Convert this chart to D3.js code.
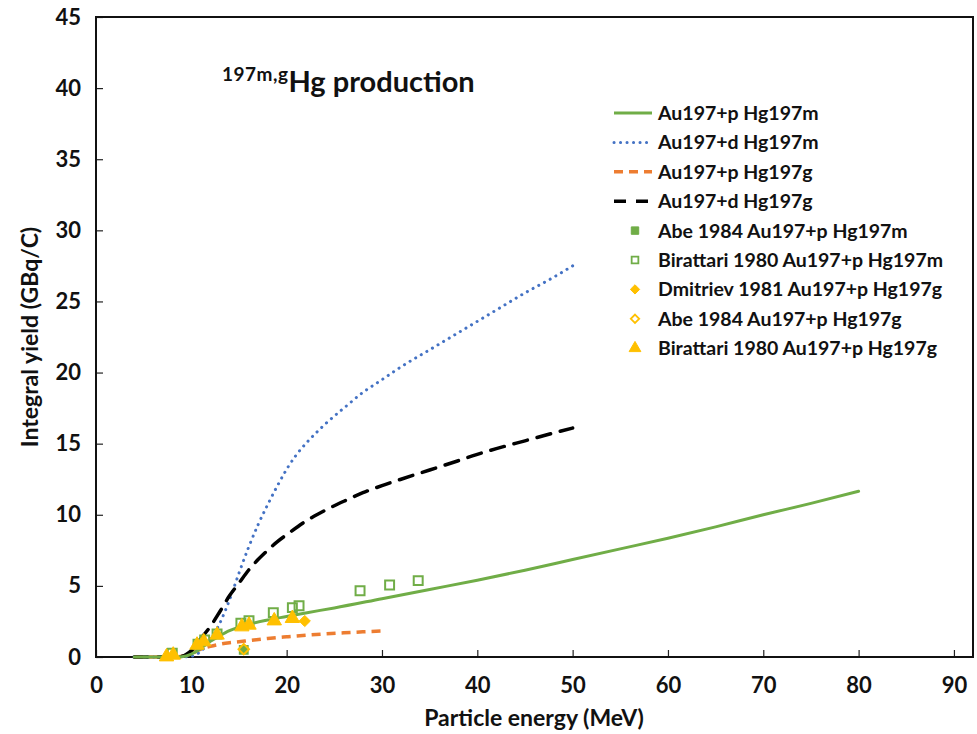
<!DOCTYPE html>
<html>
<head>
<meta charset="utf-8">
<script src="https://cdn.jsdelivr.net/npm/d3@7"></script>
<style>
  html, body { margin: 0; padding: 0; background: #fff; }
  svg text { font-family: Lato, "Open Sans", sans-serif; font-weight: bold; fill: #111; }
</style>
</head>
<body>
<svg id="chart" width="977" height="734"></svg>
<script>
// Integral yield curves (GBq/C) versus particle energy (MeV)
const pHg197mE = [4, 6, 8, 9, 10, 11, 12, 13, 14, 15, 16, 18, 20, 22, 25, 30, 35, 40, 45, 50, 55, 60, 65, 70, 75, 80];
const pHg197mY = [0, 0, 0, 0.02, 0.2, 0.6, 1.1, 1.5, 1.85, 2.1, 2.3, 2.6, 2.85, 3.1, 3.45, 4.1, 4.75, 5.4, 6.1, 6.85, 7.6, 8.35, 9.15, 10.0, 10.8, 11.65];

const dHg197mE = [4, 6, 8, 9, 10, 11, 12, 13, 14, 15, 16, 17, 18, 19, 20, 21, 22, 23, 24, 26, 28, 30, 32, 35, 38, 40, 42, 45, 48, 50];
const dHg197mY = [0, 0, 0, 0, 0.05, 0.4, 1.2, 2.4, 4.0, 5.9, 7.7, 9.3, 10.7, 12.0, 13.2, 14.2, 15.0, 15.7, 16.35, 17.5, 18.6, 19.5, 20.4, 21.6, 22.8, 23.6, 24.4, 25.6, 26.7, 27.5];

const pHg197gE = [4, 6, 8, 9, 10, 11, 12, 13, 14, 15, 16, 18, 20, 22, 24, 26, 28, 30];
const pHg197gY = [0, 0, 0, 0.05, 0.25, 0.55, 0.75, 0.9, 1.0, 1.07, 1.15, 1.3, 1.42, 1.53, 1.62, 1.7, 1.77, 1.83];

const dHg197gE = [4, 6, 8, 9, 10, 11, 12, 13, 14, 15, 16, 17, 18, 19, 20, 22, 24, 26, 28, 30, 32, 35, 38, 40, 42, 45, 48, 50];
const dHg197gY = [0, 0, 0, 0.05, 0.45, 1.3, 2.15, 3.2, 4.3, 5.2, 6.1, 6.85, 7.5, 8.1, 8.6, 9.55, 10.3, 10.95, 11.55, 12.05, 12.5, 13.15, 13.8, 14.25, 14.65, 15.2, 15.75, 16.1];

// Experimental points
const abeMe = [15.5];
const abeMy = [0.5];
const birMe = [8.0, 10.7, 11.4, 12.7, 15.2, 16.05, 18.6, 20.6, 21.3, 27.7, 30.8, 33.8];
const birMy = [0.26, 0.89, 1.2, 1.62, 2.37, 2.55, 3.12, 3.47, 3.61, 4.66, 5.06, 5.37];
const dmiGe = [21.9];
const dmiGy = [2.53];
const abeGe = [15.5];
const abeGy = [0.55];
const birGe = [7.4, 8.1, 10.6, 11.3, 12.7, 15.3, 16.05, 18.7, 20.6];
const birGy = [0.02, 0.14, 0.84, 1.08, 1.55, 2.13, 2.25, 2.55, 2.72];

const xTicks = [0, 10, 20, 30, 40, 50, 60, 70, 80, 90];
const yTicks = [0, 5, 10, 15, 20, 25, 30, 35, 40, 45];

const legendLabels = [
  "Au197+p Hg197m",
  "Au197+d Hg197m",
  "Au197+p Hg197g",
  "Au197+d Hg197g",
  "Abe 1984 Au197+p Hg197m",
  "Birattari 1980 Au197+p Hg197m",
  "Dmitriev 1981 Au197+p Hg197g",
  "Abe 1984 Au197+p Hg197g",
  "Birattari 1980 Au197+p Hg197g"
];

const GREEN = "#70AD47", BLUE = "#4472C4", ORANGE = "#ED7D31", YELLOW = "#FFC000";

const svg = d3.select("#chart");
const plotL = 96, plotR = 973, plotT = 17, plotB = 657;

const x = d3.scaleLinear().domain([0, 92]).range([plotL, plotR]);
const y = d3.scaleLinear().domain([0, 45]).range([plotB, plotT]);

// Axes with inward ticks
const xAxis = d3.axisBottom(x).tickValues(xTicks).tickSize(-7).tickPadding(20).tickFormat(d3.format("d"));
const yAxis = d3.axisLeft(y).tickValues(yTicks).tickSize(-7).tickPadding(15).tickFormat(d3.format("d"));

const gx = svg.append("g").attr("transform", `translate(0,${plotB})`).call(xAxis);
const gy = svg.append("g").attr("transform", `translate(${plotL},0)`).call(yAxis);
[gx, gy].forEach(g => {
  g.select(".domain").remove();
  g.selectAll(".tick line").attr("stroke", "#222").attr("stroke-width", 1.2);
  g.selectAll(".tick text").style("font-size", "22px").attr("fill", "#111");
});

// Plot frame
svg.append("rect")
  .attr("x", plotL).attr("y", plotT)
  .attr("width", plotR - plotL).attr("height", plotB - plotT)
  .attr("fill", "none").attr("stroke", "#111").attr("stroke-width", 2);

// Axis titles
svg.append("text")
  .attr("x", 534).attr("y", 726)
  .attr("text-anchor", "middle")
  .style("font-size", "23px")
  .text("Particle energy (MeV)");

svg.append("text")
  .attr("transform", `translate(38,${(plotT + plotB) / 2}) rotate(-90)`)
  .attr("text-anchor", "middle")
  .style("font-size", "23px")
  .text("Integral yield (GBq/C)");

// Title with superscript
const title = svg.append("text").attr("x", 222).attr("y", 92).style("font-size", "29px");
title.append("tspan").style("font-size", "19px").attr("dy", "-11").attr("letter-spacing", "0.5").text("197m,g");
title.append("tspan").attr("dy", "11").text("Hg production");

// Curves
const line = d3.line().x(d => x(d[0])).y(d => y(d[1])).curve(d3.curveMonotoneX);
const zip = (a, b) => a.map((v, i) => [v, b[i]]);

const curves = [
  { e: pHg197gE, v: pHg197gY, color: ORANGE, width: 3.5, dash: "9,6", cap: "butt" },
  { e: dHg197mE, v: dHg197mY, color: BLUE, width: 3, dash: "0.1,6.4", cap: "round" },
  { e: dHg197gE, v: dHg197gY, color: "#000", width: 3.5, dash: "14,10", cap: "round" },
  { e: pHg197mE, v: pHg197mY, color: GREEN, width: 3, dash: null, cap: "round" }
];
curves.forEach(c => {
  svg.append("path")
    .datum(zip(c.e, c.v))
    .attr("d", line)
    .attr("fill", "none")
    .attr("stroke", c.color)
    .attr("stroke-width", c.width)
    .attr("stroke-linecap", c.cap)
    .attr("stroke-dasharray", c.dash);
});

// Markers
const sym = (type, size) => d3.symbol().type(type).size(size)();
const DIAMOND = d3.symbolDiamond2 || d3.symbolDiamond;
function points(es, vs, type, size, fill, stroke, sw) {
  svg.append("g").selectAll("path").data(zip(es, vs)).join("path")
    .attr("transform", d => `translate(${x(d[0])},${y(d[1])})`)
    .attr("d", sym(type, size))
    .attr("fill", fill).attr("stroke", stroke).attr("stroke-width", sw);
}
points(birMe, birMy, d3.symbolSquare, 80, "none", GREEN, 2);
points(abeMe, abeMy, d3.symbolSquare, 70, GREEN, GREEN, 1.5);
points(birGe, birGy, d3.symbolTriangle, 90, YELLOW, YELLOW, 1);
points(dmiGe, dmiGy, DIAMOND, 80, YELLOW, YELLOW, 1);
points(abeGe, abeGy, DIAMOND, 70, "none", YELLOW, 2);

// Legend
const leg = svg.append("g");
const rowY = i => 113 + i * 29.4;
const lineStyles = [
  { color: GREEN, width: 3, dash: null, cap: "butt" },
  { color: BLUE, width: 3, dash: "0.1,6.4", cap: "round" },
  { color: ORANGE, width: 3.5, dash: "9,6", cap: "butt" },
  { color: "#000", width: 3.5, dash: "12,10", cap: "butt" }
];
lineStyles.forEach((s, i) => {
  leg.append("line")
    .attr("x1", 614).attr("x2", 652).attr("y1", rowY(i)).attr("y2", rowY(i))
    .attr("stroke", s.color).attr("stroke-width", s.width)
    .attr("stroke-dasharray", s.dash).attr("stroke-linecap", s.cap);
});
const legMarkers = [
  { type: d3.symbolSquare, size: 55, fill: GREEN, stroke: GREEN, sw: 1 },
  { type: d3.symbolSquare, size: 45, fill: "#fff", stroke: GREEN, sw: 1.8 },
  { type: DIAMOND, size: 55, fill: YELLOW, stroke: YELLOW, sw: 1 },
  { type: DIAMOND, size: 45, fill: "#fff", stroke: YELLOW, sw: 1.8 },
  { type: d3.symbolTriangle, size: 60, fill: YELLOW, stroke: YELLOW, sw: 1 }
];
legMarkers.forEach((m, j) => {
  const i = j + 4;
  leg.append("path")
    .attr("transform", `translate(635,${rowY(i)})`)
    .attr("d", sym(m.type, m.size))
    .attr("fill", m.fill).attr("stroke", m.stroke).attr("stroke-width", m.sw);
});
leg.selectAll("text").data(legendLabels).join("text")
  .attr("x", 658).attr("y", (d, i) => rowY(i))
  .attr("dy", "0.36em")
  .style("font-size", "19.5px")
  .text(d => d);
</script>
</body>
</html>
